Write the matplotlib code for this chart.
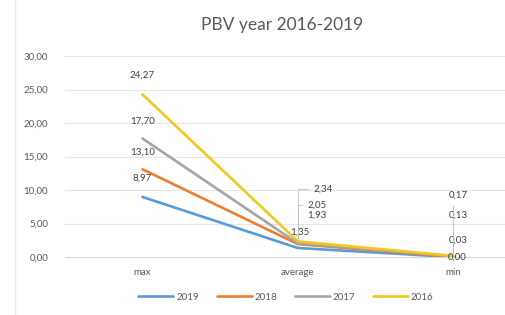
import matplotlib.pyplot as plt
from matplotlib.lines import Line2D

plt.rcParams['font.family'] = ['Lato', 'DejaVu Sans']

categories = ['max', 'average', 'min']
years = ['2019', '2018', '2017', '2016']
pbv_2019 = [8.97, 1.35, 0.00]
pbv_2018 = [13.10, 1.93, 0.03]
pbv_2017 = [17.70, 2.05, 0.13]
pbv_2016 = [24.27, 2.34, 0.17]
series = [pbv_2019, pbv_2018, pbv_2017, pbv_2016]
colors = ['#5B9BD5', '#ED7D31', '#A5A5A5', '#F2C81A']

# label offsets in pixels (per series, per category)
label_offsets = [
    [(0, 19), (2, 16), (4, 0)],
    [(0, 17), (19, 29), (5, 17)],
    [(0, 17), (19, 38), (5, 41)],
    [(0, 19), (25, 52), (5, 61)],
]


def fmt(v):
    return f"{v:.2f}".replace('.', ',')


fig = plt.figure(figsize=(5.06, 3.15), dpi=100)
ax = fig.add_axes([0.128, 0.184, 0.872, 0.638])

x = range(len(categories))
for vals, col, name, offs in zip(series, colors, years, label_offsets):
    ax.plot(x, vals, color=col, lw=1.9, label=name, solid_capstyle='round', zorder=3)
    for xi, v, (dx, dy) in zip(x, vals, offs):
        lead = None
        if dy > 30:
            lead = dict(arrowstyle='-', color='#BFBFBF', lw=0.6,
                        connectionstyle='angle,angleA=180,angleB=90,rad=0')
        ax.annotate(fmt(v), (xi, v), xytext=(dx, dy), textcoords='offset pixels',
                    ha='center', va='center', fontsize=7, color='#404040',
                    arrowprops=lead, zorder=4)

ax.set_xlim(-0.5, 2.34)
ax.set_ylim(0, 30)
ax.set_yticks(range(0, 31, 5))
ax.set_yticklabels([fmt(t) for t in range(0, 31, 5)])
ax.set_xticks(list(x))
ax.set_xticklabels(categories)
ax.tick_params(length=0, labelsize=7, colors='#595959')
ax.tick_params(axis='y', pad=12)
ax.tick_params(axis='x', pad=8)
ax.grid(axis='y', color='#E5E5E5', lw=0.8)
ax.set_axisbelow(True)
for s in ['top', 'right', 'left']:
    ax.spines[s].set_visible(False)
ax.spines['bottom'].set_color('#D9D9D9')

fig.text(0.557, 0.92, 'PBV year 2016-2019', ha='center', va='center',
         fontsize=12.5, color='#595959')

fig.legend(loc='center', bbox_to_anchor=(0.565, 0.057), ncol=4, frameon=False,
           fontsize=7, handlelength=3.6, columnspacing=1.8, handletextpad=0.3,
           labelcolor='#595959')

fig.add_artist(Line2D([0.03, 0.03], [0, 1], color='#EDEDED', lw=1))

fig.savefig('out.png', dpi=100, facecolor='white')
